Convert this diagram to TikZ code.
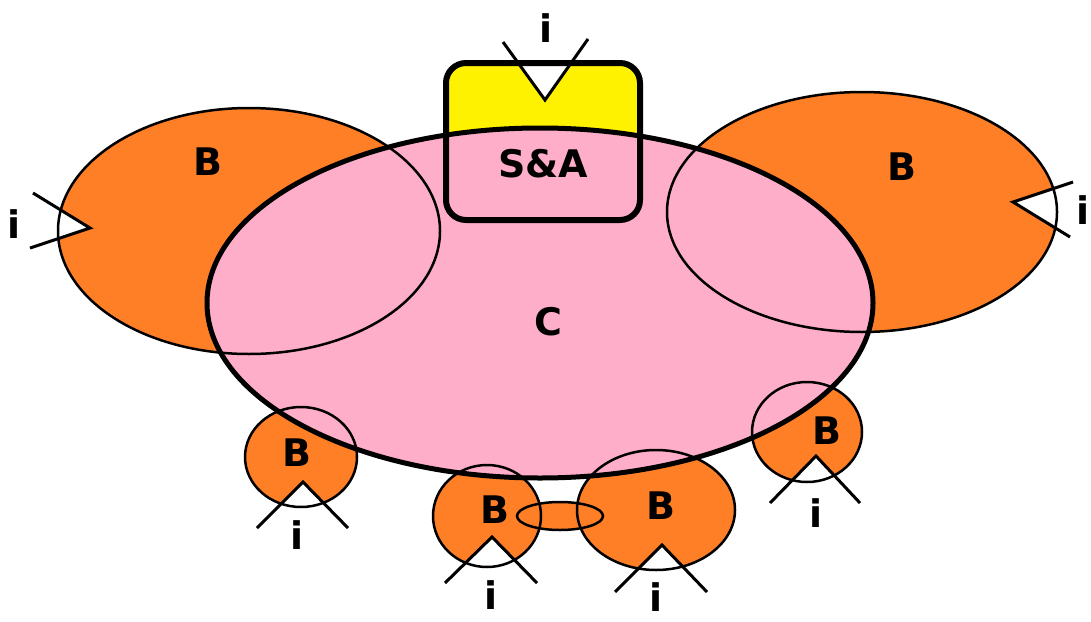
\documentclass[tikz,border=0pt]{standalone}
\usepackage{fontspec}
\setmainfont{DejaVu Sans}
\definecolor{borange}{HTML}{FF7F27}
\definecolor{cpink}{HTML}{FFAEC9}
\definecolor{sayellow}{HTML}{FFF200}
\begin{document}
\begin{tikzpicture}[x=1pt,y=-1pt,
  thinline/.style={draw=black,line width=2.5pt},
  thickline/.style={draw=black,line width=5pt},
  wedgeline/.style={draw=black,line width=3pt},
  lbl/.style={inner sep=0pt,font=\fontsize{38}{38}\selectfont\bfseries}]
\useasboundingbox[fill=white] (0,0) rectangle (1091,621);
% key coordinates
\coordinate (cC) at (540,303);
\coordinate (cBL) at (249,231);
\coordinate (cBR) at (862,212);
\coordinate (b1) at (301,457);
\coordinate (b2) at (487,516);
\coordinate (b3) at (656,510);
\coordinate (b4) at (807,432);
\coordinate (lk) at (560,516);
% wedge coordinates
\coordinate (tS) at (545,100); \coordinate (tS1) at (503,42); \coordinate (tS2) at (588,39);
\coordinate (tL) at (90,228); \coordinate (tL1) at (33,193); \coordinate (tL2) at (30,248);
\coordinate (tR) at (1013,202); \coordinate (tR1) at (1073,182); \coordinate (tR2) at (1070,237);
\coordinate (t1) at (303,482); \coordinate (t11) at (257,528); \coordinate (t12) at (348,528);
\coordinate (t2) at (492,537); \coordinate (t21) at (445,583); \coordinate (t22) at (537,583);
\coordinate (t3) at (662,545); \coordinate (t31) at (615,592); \coordinate (t32) at (707,592);
\coordinate (t4) at (816,456); \coordinate (t41) at (770,503); \coordinate (t42) at (860,503);
% S&A box fill
\fill[sayellow,rounded corners=20pt] (446,63) rectangle (640,220);
% orange fills
\fill[borange] (cBL) ellipse [x radius=191pt,y radius=123pt];
\fill[borange] (cBR) ellipse [x radius=195pt,y radius=120pt];
\fill[borange] (b1) ellipse [x radius=56pt,y radius=50pt];
\fill[borange] (b2) ellipse [x radius=54pt,y radius=51pt];
\fill[borange] (b3) ellipse [x radius=79pt,y radius=60pt];
\fill[borange] (b4) ellipse [x radius=55pt,y radius=50pt];
\fill[borange] (lk) ellipse [x radius=43pt,y radius=14pt];
% C fill
\fill[cpink] (cC) ellipse [x radius=333pt,y radius=175pt];
% white notches
\foreach \t in {S,L,R,1,2,3,4}{
  \fill[white] (t\t) -- (t\t1) -- (t\t2) -- cycle;
}
% thin outlines
\draw[thinline] (cBL) ellipse [x radius=191pt,y radius=123pt];
\draw[thinline] (cBR) ellipse [x radius=195pt,y radius=120pt];
\draw[thinline] (b1) ellipse [x radius=56pt,y radius=50pt];
\draw[thinline] (b2) ellipse [x radius=54pt,y radius=51pt];
\draw[thinline] (b3) ellipse [x radius=79pt,y radius=60pt];
\draw[thinline] (b4) ellipse [x radius=55pt,y radius=50pt];
\draw[thinline] (lk) ellipse [x radius=43pt,y radius=14pt];
% C outline
\draw[thickline] (cC) ellipse [x radius=333pt,y radius=175pt];
% box outline
\draw[line width=6pt,rounded corners=20pt] (446,63) rectangle (640,220);
% wedge lines
\foreach \t in {S,L,R,1,2,3,4}{
  \draw[wedgeline] (t\t1) -- (t\t) -- (t\t2);
}
% labels
\node[lbl] (lBL) at (208,162) {B};
\node[lbl] (lBR) at (902,167) {B};
\node[lbl] (lC) at (548,322) {C};
\node[lbl] (lSA) at (543,164) {S\&A};
\node[lbl] (lb1) at (297,453) {B};
\node[lbl] (lb2) at (495,510) {B};
\node[lbl] (lb3) at (661,506) {B};
\node[lbl] (lb4) at (827,431) {B};
\node[lbl] (iS) at (546,28) {i};
\node[lbl] (iL) at (14,224) {i};
\node[lbl] (iR) at (1083,210) {i};
\node[lbl] (i1) at (297,535) {i};
\node[lbl] (i2) at (491,595) {i};
\node[lbl] (i3) at (656,597) {i};
\node[lbl] (i4) at (816,513) {i};
\end{tikzpicture}
\end{document}
